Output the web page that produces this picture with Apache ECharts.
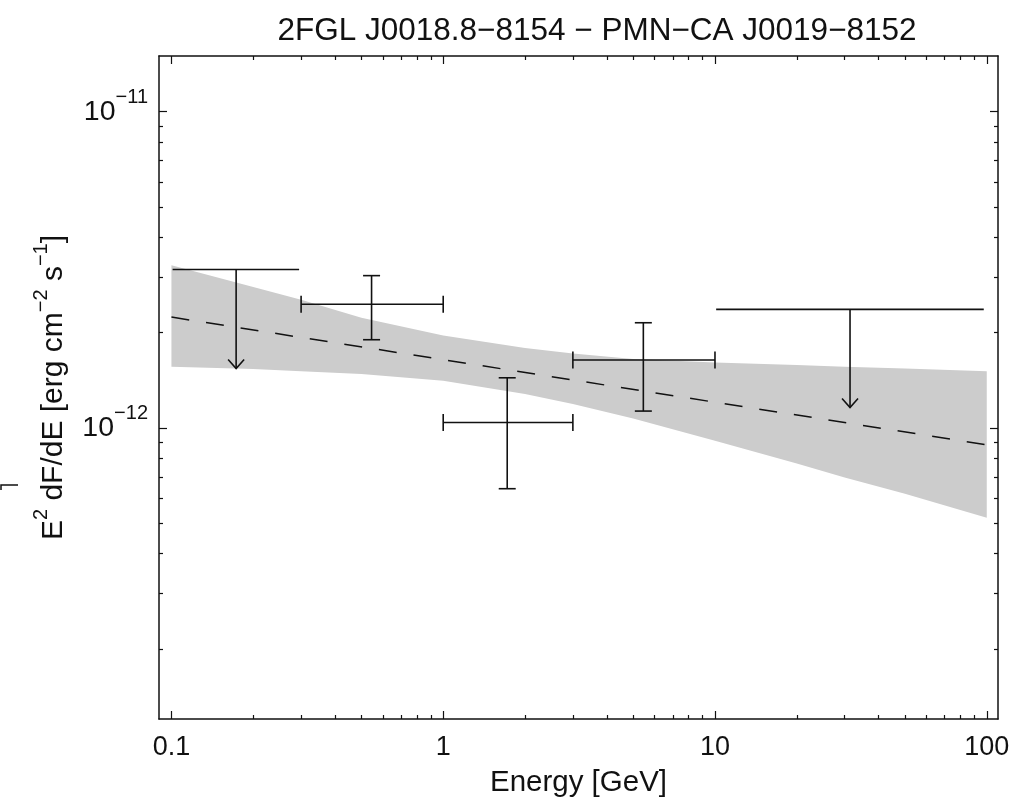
<!DOCTYPE html>
<html><head><meta charset="utf-8">
<script src="https://cdn.jsdelivr.net/npm/echarts@6/dist/echarts.min.js"></script>
<style>html,body{margin:0;padding:0;background:#fff}#c{width:1026px;height:800px}</style>
</head><body><div id="c"></div>
<script>
// ---- text ----
const titleText = '2FGL J0018.8\u22128154 \u2212 PMN\u2212CA J0019\u22128152';
const xAxisTitle = 'Energy [GeV]';

// ---- axes ----
const xRange = [0.09, 110];
const yRange = [1.2e-13, 1.5e-11];
const xTickValues = [0.1, 1, 10, 100];
const xTickLabels = ['0.1', '1', '10', '100'];
const xMinorTicks = [0.2,0.3,0.4,0.5,0.6,0.7,0.8,0.9,2,3,4,5,6,7,8,9,20,30,40,50,60,70,80,90];
const yTickValues = [1e-12, 1e-11];
const yTickExponents = ['\u221212', '\u221211'];
const yMinorTicks = [2e-13,3e-13,4e-13,5e-13,6e-13,7e-13,8e-13,9e-13,2e-12,3e-12,4e-12,5e-12,6e-12,7e-12,8e-12,9e-12];

// ---- butterfly band ----
const bandEnergy = [0.1, 0.2, 0.3, 0.5, 1, 2, 3, 5, 10, 20, 30, 50, 100];
const bandUpper  = [3.27e-12, 2.79e-12, 2.54e-12, 2.23e-12, 1.96e-12, 1.79e-12, 1.72e-12, 1.65e-12, 1.61e-12, 1.58e-12, 1.56e-12, 1.54e-12, 1.51e-12];
const bandLower  = [1.56e-12, 1.535e-12, 1.51e-12, 1.48e-12, 1.41e-12, 1.28e-12, 1.19e-12, 1.07e-12, 9.1e-13, 7.71e-13, 6.97e-13, 6.19e-13, 5.2e-13];

// ---- model (dashed) ----
const modelEnergy = [0.1, 100];
const modelFlux   = [2.24e-12, 8.84e-13];

// ---- data points with error bars ----
const pointEnergy   = [0.545, 1.72, 5.45];
const pointELow     = [0.3, 1, 3];
const pointEHigh    = [1, 3, 10];
const pointFlux     = [2.46e-12, 1.04e-12, 1.64e-12];
const pointFluxLow  = [1.90e-12, 6.42e-13, 1.13e-12];
const pointFluxHigh = [3.03e-12, 1.44e-12, 2.15e-12];

// ---- upper limits ----
const ulEnergy  = [0.173, 31.4];
const ulELow    = [0.101, 10.1];
const ulEHigh   = [0.295, 97.5];
const ulFlux    = [3.17e-12, 2.37e-12];
const ulArrowTo = [1.54e-12, 1.16e-12];

const L = Math.log10;
const FONT = 'Liberation Sans';
const FS = 27;
const INK = '#111';

const bandData = bandEnergy.map((e, i) => [L(e), L(bandUpper[i]), L(bandLower[i])]);
const modelData = modelEnergy.map((e, i) => [L(e), L(modelFlux[i])]);
const pointData = pointEnergy.map((e, i) => [L(e), L(pointFlux[i]), L(pointELow[i]), L(pointEHigh[i]), L(pointFluxLow[i]), L(pointFluxHigh[i])]);
const ulData = ulEnergy.map((e, i) => [L(e), L(ulFlux[i]), L(ulELow[i]), L(ulEHigh[i]), L(ulArrowTo[i])]);

const lineStyle = { stroke: INK, lineWidth: 1.6, fill: null };

function bandRender(params, api) {
  if (params.dataIndex !== 0) return null;
  const pts = [];
  bandData.forEach(d => pts.push(api.coord([d[0], d[1]])));
  for (let i = bandData.length - 1; i >= 0; i--) pts.push(api.coord([bandData[i][0], bandData[i][2]]));
  return { type: 'polygon', shape: { points: pts }, style: { fill: '#cccccc', stroke: null } };
}

function errRender(params, api) {
  const x = api.value(0), y = api.value(1);
  const c = api.coord([x, y]);
  const xl = api.coord([api.value(2), y])[0], xh = api.coord([api.value(3), y])[0];
  const yl = api.coord([x, api.value(4)])[1], yh = api.coord([x, api.value(5)])[1];
  const cap = 8.5;
  const seg = (x1, y1, x2, y2) => ({ type: 'line', shape: { x1, y1, x2, y2 }, style: lineStyle });
  return { type: 'group', children: [
    seg(xl, c[1], xh, c[1]),
    seg(xl, c[1] - cap, xl, c[1] + cap),
    seg(xh, c[1] - cap, xh, c[1] + cap),
    seg(c[0], yh, c[0], yl),
    seg(c[0] - cap, yh, c[0] + cap, yh),
    seg(c[0] - cap, yl, c[0] + cap, yl)
  ]};
}

function ulRender(params, api) {
  const x = api.value(0), y = api.value(1);
  const c = api.coord([x, y]);
  const xl = api.coord([api.value(2), y])[0], xh = api.coord([api.value(3), y])[0];
  const tip = api.coord([x, api.value(4)])[1];
  const seg = (x1, y1, x2, y2) => ({ type: 'line', shape: { x1, y1, x2, y2 }, style: lineStyle });
  return { type: 'group', children: [
    seg(xl, c[1], xh, c[1]),
    seg(c[0], c[1], c[0], tip),
    { type: 'polyline', shape: { points: [[c[0] - 8, tip - 9], [c[0], tip], [c[0] + 8, tip - 9]] }, style: lineStyle }
  ]};
}

function xAxisDef(position, ticks, len, withLabels) {
  const a = {
    type: 'value', position, min: L(xRange[0]), max: L(xRange[1]),
    splitLine: { show: false },
    axisLine: { show: len === 8, onZero: false, lineStyle: { color: INK, width: 1.5 } },
    axisTick: { show: true, inside: true, length: len, customValues: ticks.map(L), lineStyle: { color: INK, width: 1.2 } },
    axisLabel: { show: false }
  };
  if (withLabels) {
    a.axisLabel = {
      show: true, customValues: xTickValues.map(L), margin: 15,
      fontFamily: FONT, fontSize: FS, color: INK,
      formatter: v => { const i = xTickValues.findIndex(t => Math.abs(L(t) - v) < 1e-6); return i >= 0 ? xTickLabels[i] : ''; }
    };
    a.name = xAxisTitle; a.nameLocation = 'middle'; a.nameGap = 49;
    a.nameTextStyle = { fontFamily: FONT, fontSize: 29.5, color: INK };
  }
  return a;
}

function yAxisDef(position, ticks, len, withLabels) {
  const a = {
    type: 'value', position, min: L(yRange[0]), max: L(yRange[1]),
    splitLine: { show: false },
    axisLine: { show: len === 8, onZero: false, lineStyle: { color: INK, width: 1.5 } },
    axisTick: { show: true, inside: true, length: len, customValues: ticks.map(L), lineStyle: { color: INK, width: 1.2 } },
    axisLabel: { show: false }
  };
  if (withLabels) {
    a.axisLabel = {
      show: true, customValues: yTickValues.map(L), margin: 11,
      fontFamily: FONT, color: INK,
      formatter: v => { const i = yTickValues.findIndex(t => Math.abs(L(t) - v) < 1e-6); return i >= 0 ? '{b|10}{s|' + yTickExponents[i] + '}' : ''; },
      rich: {
        b: { fontFamily: FONT, fontSize: 28.5, color: INK, lineHeight: 48, verticalAlign: 'middle' },
        s: { fontFamily: FONT, fontSize: 20, color: INK, lineHeight: 20, verticalAlign: 'top' }
      }
    };
    a.name = '{n|E}{s|2}{n| dF/dE [erg cm}{s|\u22122}{n| s}{s|\u22121}{n|]}';
    a.nameLocation = 'middle'; a.nameGap = 82; a.nameRotate = 90;
    a.nameTextStyle = {
      fontFamily: FONT, fontSize: 30, color: INK,
      rich: {
        n: { fontFamily: FONT, fontSize: 30, color: INK, lineHeight: 46, verticalAlign: 'middle' },
        s: { fontFamily: FONT, fontSize: 20, color: INK, lineHeight: 20, verticalAlign: 'top' }
      }
    };
  }
  return a;
}

const chart = echarts.init(document.getElementById('c'), null, { renderer: 'canvas' });
chart.setOption({
  backgroundColor: '#fff',
  animation: false,
  title: {
    text: titleText, left: 592, top: 10, textAlign: 'center',
    textStyle: { fontFamily: FONT, fontSize: 31.5, fontWeight: 'normal', color: INK }
  },
  grid: { left: 159, right: 28, top: 56, bottom: 81, containLabel: false, outerBoundsMode: 'none' },
  xAxis: [
    xAxisDef('bottom', xTickValues, 8, true),
    xAxisDef('bottom', xMinorTicks, 4, false),
    xAxisDef('top', xTickValues, 8, false),
    xAxisDef('top', xMinorTicks, 4, false)
  ],
  yAxis: [
    yAxisDef('left', yTickValues, 8, true),
    yAxisDef('left', yMinorTicks, 4, false),
    yAxisDef('right', yTickValues, 8, false),
    yAxisDef('right', yMinorTicks, 4, false)
  ],
  graphic: [
    { type: 'polyline', shape: { points: [[1, 490], [1, 485], [18, 485]] }, style: { stroke: INK, lineWidth: 1.5, fill: null } }
  ],
  series: [
    { type: 'custom', name: 'band', renderItem: bandRender, data: bandData, encode: { x: 0, y: 1 }, clip: false, silent: true },
    { type: 'line', name: 'model', data: modelData, symbol: 'none', lineStyle: { color: INK, width: 1.5, type: [18, 17] }, silent: true },
    { type: 'custom', name: 'points', renderItem: errRender, data: pointData, encode: { x: 0, y: 1 }, silent: true },
    { type: 'custom', name: 'upper limits', renderItem: ulRender, data: ulData, encode: { x: 0, y: 1 }, silent: true }
  ]
});
</script>
</body></html>
